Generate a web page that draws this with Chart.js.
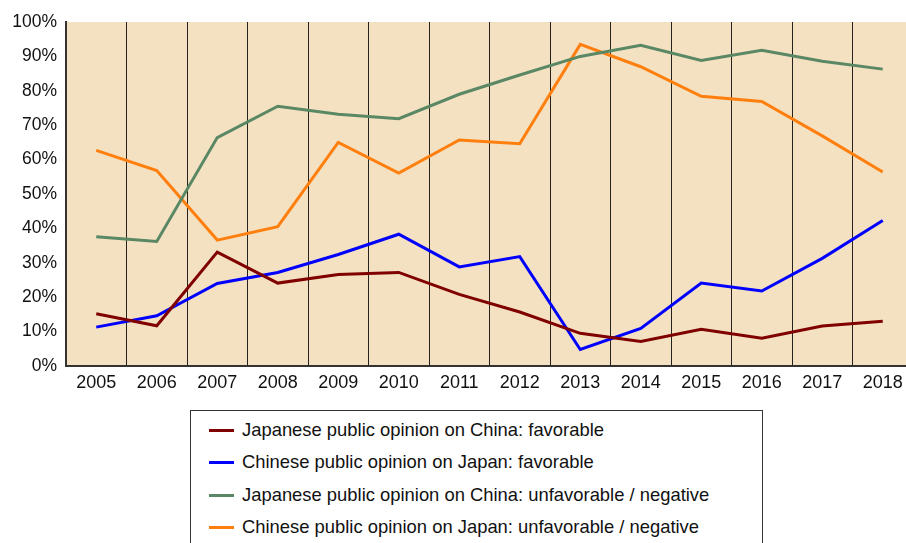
<!DOCTYPE html>
<html>
<head>
<meta charset="utf-8">
<script src="https://cdn.jsdelivr.net/npm/chart.js@4.4.1/dist/chart.umd.min.js"></script>
<style>
  html, body { margin: 0; padding: 0; background: #fff; overflow: hidden; width: 906px; height: 543px; }
  #wrap { position: absolute; left: 0; top: 0; width: 913px; height: 400px; }
  #legend { position: absolute; left: 190px; top: 410px; width: 573px; height: 160px;
    border: 1.5px solid #333; box-sizing: border-box; font-family: "Liberation Sans", Arial, sans-serif;
    font-size: 18.4px; color: #111; }
  .item { position: absolute; left: 18px; height: 22px; line-height: 22px; white-space: nowrap; }
  .swatch { display: inline-block; width: 25px; height: 3px; vertical-align: middle; margin-right: 8px; position: relative; top: -1px; }
</style>
</head>
<body>
<div id="wrap"><canvas id="c" width="913" height="400"></canvas></div>
<div id="legend"></div>
<script>
const years = ["2005","2006","2007","2008","2009","2010","2011","2012","2013","2014","2015","2016","2017","2018"];
const jpOnChinaFavorable   = [15.2, 11.7, 33.1, 24.1, 26.6, 27.2, 20.8, 15.7, 9.5, 7.1, 10.7, 8.1, 11.6, 13.0];
const cnOnJapanFavorable   = [11.3, 14.6, 24.0, 27.2, 32.4, 38.3, 28.8, 31.8, 4.8, 10.9, 24.1, 21.8, 31.3, 42.3];
const jpOnChinaUnfavorable = [37.6, 36.2, 66.4, 75.5, 73.2, 71.9, 79.0, 84.6, 90.0, 93.2, 88.8, 91.8, 88.6, 86.3];
const cnOnJapanUnfavorable = [62.7, 56.8, 36.6, 40.5, 65.0, 56.1, 65.7, 64.6, 93.5, 87.0, 78.4, 76.9, 66.9, 56.4];
const seriesNames = [
  "Japanese public opinion on China: favorable",
  "Chinese public opinion on Japan: favorable",
  "Japanese public opinion on China: unfavorable / negative",
  "Chinese public opinion on Japan: unfavorable / negative"
];
const seriesColors = ["#800000", "#0000FF", "#5A8865", "#FF7F0E"];
const yTicks = [0,10,20,30,40,50,60,70,80,90,100];

const seriesData = [jpOnChinaFavorable, cnOnJapanFavorable, jpOnChinaUnfavorable, cnOnJapanUnfavorable];

const bgPlugin = {
  id: 'plotBg',
  beforeDraw(chart) {
    const {ctx, chartArea: a} = chart;
    ctx.save();
    ctx.fillStyle = '#F4E1C1';
    ctx.fillRect(a.left, a.top, a.right - a.left, a.bottom - a.top);
    ctx.restore();
  }
};

const fontFamily = '"Liberation Sans", Arial, sans-serif';

const chart = new Chart(document.getElementById('c'), {
  type: 'line',
  data: {
    labels: years,
    datasets: seriesData.map((d, i) => ({
      label: seriesNames[i],
      data: d,
      borderColor: seriesColors[i],
      backgroundColor: seriesColors[i],
      borderWidth: 3,
      pointRadius: 0,
      tension: 0,
      fill: false
    }))
  },
  options: {
    responsive: false,
    animation: false,
    devicePixelRatio: 1,
    layout: { padding: { top: 22, left: 0, right: 0, bottom: 0 } },
    plugins: { legend: { display: false }, tooltip: { enabled: false } },
    scales: {
      x: {
        type: 'category',
        offset: true,
        grid: { display: true, offset: true, color: 'rgba(0,0,0,0.85)', lineWidth: 1, drawTicks: false },
        border: { display: true, color: '#333', width: 2 },
        ticks: { color: '#111', font: { family: fontFamily, size: 18 }, padding: 6, maxRotation: 0, autoSkip: false },
        afterFit(s) { s.height = 34; }
      },
      y: {
        min: 0, max: 100,
        afterBuildTicks(s) { s.ticks = yTicks.map(v => ({ value: v })); },
        grid: { display: true, color: 'transparent', drawTicks: false },
        border: { display: true, color: '#333', width: 2 },
        ticks: { color: '#111', font: { family: fontFamily, size: 17.5 }, padding: 9, callback: v => v + '%' },
        afterFit(s) { s.width = 66; }
      }
    }
  },
  plugins: [bgPlugin]
});

// HTML legend built from the chart's datasets
const legendEl = document.getElementById('legend');
const itemTops = [8, 40, 73, 105];
chart.data.datasets.forEach((ds, i) => {
  const div = document.createElement('div');
  div.className = 'item';
  div.style.top = itemTops[i] + 'px';
  const sw = document.createElement('span');
  sw.className = 'swatch';
  sw.style.background = ds.borderColor;
  div.appendChild(sw);
  div.appendChild(document.createTextNode(ds.label));
  legendEl.appendChild(div);
});
</script>
</body>
</html>
